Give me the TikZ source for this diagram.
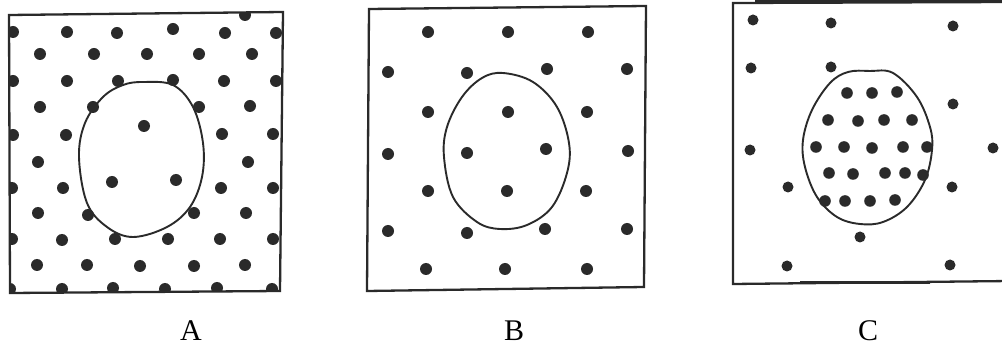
\documentclass[tikz,border=0pt]{standalone}
\usepackage{fontspec}
\setmainfont{Liberation Serif}
\definecolor{ink}{HTML}{2A2A2A}
\begin{document}
\begin{tikzpicture}[x=1pt,y=-1pt,
  boxline/.style={draw=ink,line width=2.3pt,line join=miter},
  cellline/.style={draw=ink,line width=1.9pt},
  dotfill/.style={fill=ink},
  lbl/.style={font=\fontsize{30}{30}\selectfont,inner sep=0pt,text=black}]
\clip (0,0) rectangle (1002,347);
\fill[white] (0,0) rectangle (1002,347);
% ---------- Panel A ----------
\begin{scope}
\clip (9,15) -- (283,12) -- (280,291) -- (10,293) -- cycle;
\foreach \x/\y in {13/32,67/32,117/33,173/29,225/33,276/33,245/15,
  40/54,94/54,147/54,199/54,252/54,
  13/81,67/81,118/81,173/80,224/81,276/81,
  40/107,93/107,199/107,250/106,
  13/135,66/135,222/134,273/134,
  38/162,248/162,
  12/188,63/188,221/188,273/188,
  38/213,88/215,194/213,246/213,
  12/239,62/240,115/239,168/239,220/239,273/239,
  37/265,87/265,140/266,194/266,245/265,
  10/289,62/289,113/288,165/289,217/288,272/289,
  144/126,112/182,176/180}
  \fill[dotfill] (\x,\y) circle (6);
\end{scope}
\draw[boxline] (9,15) -- (283,12) -- (280,291) -- (10,293) -- cycle;
\draw[cellline] plot[smooth cycle,tension=0.6] coordinates {
  (143,82) (173,85) (193,107) (203,143) (202,177) (190,207) (167,227)
  (133,237) (107,227) (87,203) (79,157) (85,123) (103,97) (123,85)};
\node[lbl] (la) at (191,331) {A};
% ---------- Panel B ----------
\foreach \x/\y in {428/32,508/32,588/32,
  388/72,467/73,547/69,627/69,
  428/112,508/112,587/112,
  388/154,467/153,546/149,628/151,
  428/191,507/191,586/191,
  388/231,467/233,545/229,627/229,
  426/269,505/269,587/269}
  \fill[dotfill] (\x,\y) circle (6);
\draw[boxline] (369,9) -- (646,6) -- (644,287) -- (367,291) -- cycle;
\draw[cellline] plot[smooth cycle,tension=0.6] coordinates {
  (503,73) (533,82) (557,107) (569,143) (567,173) (552,207) (527,225)
  (500,229) (477,222) (453,197) (444,157) (447,127) (462,97) (482,78)};
\node[lbl] (lb) at (514,331) {B};
% ---------- Panel C ----------
\foreach \x/\y in {753/20,831/23,953/26,751/68,831/67,953/104,750/150,993/148,
  788/187,952/187,860/237,787/266,950/265}
  \fill[dotfill] (\x,\y) circle (5.5);
\foreach \x/\y in {847/93,872/93,897/92,
  828/120,858/121,884/120,912/120,
  816/147,844/147,872/148,903/147,927/147,
  829/173,853/174,885/173,905/173,923/175,
  825/201,845/201,870/201,895/200}
  \fill[dotfill] (\x,\y) circle (5.8);
\draw[boxline] (1010,2) -- (733,3) -- (733,284) -- (1010,281);
\draw[ink,line width=3.2pt] (755,1.5) -- (1010,1.5);
\draw[ink,line width=3pt] (800,283) -- (930,283);
\draw[cellline] plot[smooth cycle,tension=0.6] coordinates {
  (870,71) (893,73) (917,97) (930,127) (932,150) (925,180) (907,207)
  (883,222) (860,224) (837,217) (817,197) (805,167) (803,140) (812,110)
  (830,83) (848,72)};
\node[lbl] (lc) at (868,331) {C};
\end{tikzpicture}
\end{document}
